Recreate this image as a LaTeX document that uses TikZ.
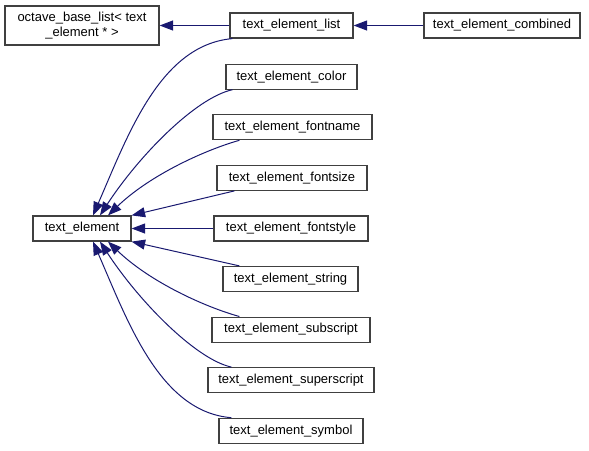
\documentclass[tikz,border=0pt]{standalone}
\usepackage{fontspec}
\setmainfont{Liberation Sans}
\usetikzlibrary{arrows.meta,calc}
\definecolor{edgeblue}{HTML}{191970}
\begin{document}
\begin{tikzpicture}[x=1pt,y=-1pt,
  cls/.style={draw=black!75, line width=1.2pt, fill=white, inner sep=0pt,
    minimum height=25pt, font=\fontsize{13}{15}\selectfont},
  inh/.style={draw=edgeblue, line width=1pt,
    -{Triangle[length=13.5pt,width=10pt,fill=edgeblue]}}]
\useasboundingbox (0,0) rectangle (589,450);
% nodes
\node[cls, minimum width=154pt, minimum height=39pt, align=center] (base) at (82,25.5)
  {octave\_base\_list< text\\\_element * >};
\node[cls, minimum width=123pt] (list) at (291.5,25.5) {text\_element\_list};
\node[cls, minimum width=156pt] (comb) at (502,25.5) {text\_element\_combined};
\node[cls, minimum width=98pt] (te) at (82,228.5) {text\_element};
\node[cls, minimum width=131pt] (color) at (291.5,76.6) {text\_element\_color};
\node[cls, minimum width=159pt] (fname) at (292.5,127.2) {text\_element\_fontname};
\node[cls, minimum width=150pt] (fsize) at (292,177.8) {text\_element\_fontsize};
\node[cls, minimum width=154pt] (fstyle) at (291,228.5) {text\_element\_fontstyle};
\node[cls, minimum width=135pt] (str) at (290.5,279) {text\_element\_string};
\node[cls, minimum width=158pt] (sub) at (291,329.6) {text\_element\_subscript};
\node[cls, minimum width=166pt] (sup) at (291,380.2) {text\_element\_superscript};
\node[cls, minimum width=144pt] (sym) at (291,430.8) {text\_element\_symbol};
% edges
\draw[inh] (list.west) -- (base.east);
\draw[inh] (comb.west) -- (list.east);
\draw[inh] ([xshift=3pt]list.south west) .. controls (160,45) and (128,135) .. ([xshift=11pt]te.north);
\draw[inh] ([xshift=7pt]color.south west) .. controls (195,98) and (138,157) .. ([xshift=18pt]te.north);
\draw[inh] ([xshift=27pt]fname.south west) .. controls (205,150) and (150,175) .. ([xshift=26pt]te.north);
\draw[inh] ([xshift=18pt]fsize.south west) -- (te.north east);
\draw[inh] (fstyle.west) -- (te.east);
\draw[inh] ([xshift=17pt]str.north west) -- (te.south east);
\draw[inh] ([xshift=28pt]sub.north west) .. controls (205,307) and (150,282) .. ([xshift=26pt]te.south);
\draw[inh] ([xshift=24pt]sup.north west) .. controls (195,359) and (138,300) .. ([xshift=18pt]te.south);
\draw[inh] ([xshift=13pt]sym.north west) .. controls (160,412) and (128,322) .. ([xshift=11pt]te.south);
\end{tikzpicture}
\end{document}
